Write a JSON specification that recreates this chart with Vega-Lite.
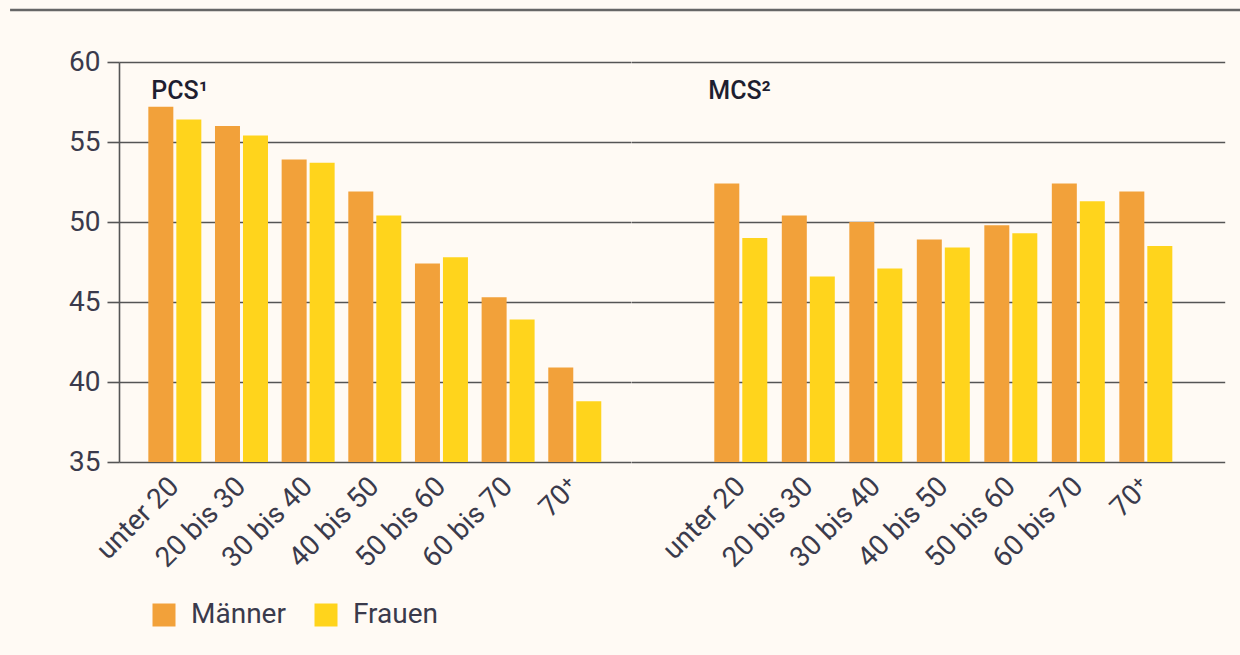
{
  "$schema": "https://vega.github.io/schema/vega-lite/v6.json",
  "background": "#FFFAF4",
  "padding": {"left": 8, "top": 0, "right": 0, "bottom": 9},
  "config": {
    "view": {"stroke": null},
    "font": "Roboto",
    "axis": {
      "labelFont": "Roboto",
      "labelColor": "#3a3a4c",
      "labelFontSize": 28,
      "gridColor": "#555555",
      "gridWidth": 1.6,
      "gridOpacity": 1,
      "domainColor": "#555555",
      "domainWidth": 1.6,
      "tickColor": "#555555",
      "tickWidth": 1.6,
      "title": null
    }
  },
  "datasets": {
    "werte": [
      {"skala": "PCS", "alter": "unter 20", "geschlecht": "Männer", "wert": 57.2},
      {"skala": "PCS", "alter": "unter 20", "geschlecht": "Frauen", "wert": 56.4},
      {"skala": "PCS", "alter": "20 bis 30", "geschlecht": "Männer", "wert": 56.0},
      {"skala": "PCS", "alter": "20 bis 30", "geschlecht": "Frauen", "wert": 55.4},
      {"skala": "PCS", "alter": "30 bis 40", "geschlecht": "Männer", "wert": 53.9},
      {"skala": "PCS", "alter": "30 bis 40", "geschlecht": "Frauen", "wert": 53.7},
      {"skala": "PCS", "alter": "40 bis 50", "geschlecht": "Männer", "wert": 51.9},
      {"skala": "PCS", "alter": "40 bis 50", "geschlecht": "Frauen", "wert": 50.4},
      {"skala": "PCS", "alter": "50 bis 60", "geschlecht": "Männer", "wert": 47.4},
      {"skala": "PCS", "alter": "50 bis 60", "geschlecht": "Frauen", "wert": 47.8},
      {"skala": "PCS", "alter": "60 bis 70", "geschlecht": "Männer", "wert": 45.3},
      {"skala": "PCS", "alter": "60 bis 70", "geschlecht": "Frauen", "wert": 43.9},
      {"skala": "PCS", "alter": "70⁺", "geschlecht": "Männer", "wert": 40.9},
      {"skala": "PCS", "alter": "70⁺", "geschlecht": "Frauen", "wert": 38.8},
      {"skala": "MCS", "alter": "unter 20", "geschlecht": "Männer", "wert": 52.4},
      {"skala": "MCS", "alter": "unter 20", "geschlecht": "Frauen", "wert": 49.0},
      {"skala": "MCS", "alter": "20 bis 30", "geschlecht": "Männer", "wert": 50.4},
      {"skala": "MCS", "alter": "20 bis 30", "geschlecht": "Frauen", "wert": 46.6},
      {"skala": "MCS", "alter": "30 bis 40", "geschlecht": "Männer", "wert": 50.0},
      {"skala": "MCS", "alter": "30 bis 40", "geschlecht": "Frauen", "wert": 47.1},
      {"skala": "MCS", "alter": "40 bis 50", "geschlecht": "Männer", "wert": 48.9},
      {"skala": "MCS", "alter": "40 bis 50", "geschlecht": "Frauen", "wert": 48.4},
      {"skala": "MCS", "alter": "50 bis 60", "geschlecht": "Männer", "wert": 49.8},
      {"skala": "MCS", "alter": "50 bis 60", "geschlecht": "Frauen", "wert": 49.3},
      {"skala": "MCS", "alter": "60 bis 70", "geschlecht": "Männer", "wert": 52.4},
      {"skala": "MCS", "alter": "60 bis 70", "geschlecht": "Frauen", "wert": 51.3},
      {"skala": "MCS", "alter": "70⁺", "geschlecht": "Männer", "wert": 51.9},
      {"skala": "MCS", "alter": "70⁺", "geschlecht": "Frauen", "wert": 48.5}
    ]
  },
  "spacing": 36,
  "vconcat": [
    {
      "width": 1123,
      "height": 10,
      "data": {"values": [{}]},
      "mark": {"type": "rule", "color": "#666666", "strokeWidth": 2.5, "clip": false},
      "encoding": {
        "x": {"datum": -0.097, "type": "quantitative", "scale": {"domain": [0, 1], "nice": false, "zero": false}, "axis": null},
        "x2": {"datum": 1},
        "y": {"datum": 0, "type": "quantitative", "scale": {"domain": [0, 1]}, "axis": null}
      }
    },
    {
      "spacing": 0,
      "hconcat": [
        {
          "width": 511.6,
          "height": 400,
          "layer": [
            {
              "data": {"name": "werte"},
              "transform": [{"filter": "datum.skala === 'PCS'"}],
              "mark": {"type": "bar"},
              "encoding": {
                "x": {
                  "field": "alter", "type": "nominal",
                  "scale": {"domain": ["unter 20", "20 bis 30", "30 bis 40", "40 bis 50", "50 bis 60", "60 bis 70", "70⁺"], "paddingInner": 0.205, "paddingOuter": 0.44},
                  "axis": {"domain": false, "ticks": false, "labelAngle": -45, "labelAlign": "right", "labelBaseline": "middle", "labelPadding": 20}
                },
                "xOffset": {"field": "geschlecht", "type": "nominal", "sort": ["Männer", "Frauen"], "scale": {"paddingInner": 0.107, "paddingOuter": 0}},
                "y": {
                  "field": "wert", "type": "quantitative",
                  "scale": {"domain": [35, 60], "zero": false, "nice": false},
                  "axis": {"values": [35, 40, 45, 50, 55, 60], "tickSize": 12, "labelPadding": 7, "minExtent": 109, "maxExtent": 109}
                },
                "y2": {"datum": 35},
                "color": {
                  "field": "geschlecht", "type": "nominal",
                  "scale": {"domain": ["Männer", "Frauen"], "range": ["#F2A13A", "#FFD41C"]},
                  "legend": {"orient": "bottom", "direction": "horizontal", "title": null, "symbolType": "square", "symbolSize": 529, "symbolStrokeWidth": 0, "labelFontSize": 28, "labelFont": "Roboto", "labelColor": "#3a3a4c", "labelOffset": 13, "columnPadding": 26, "offset": -3, "padding": 31}
                }
              }
            },
            {
              "data": {"values": [{"alter": "unter 20", "titel": "PCS¹"}]},
              "mark": {"type": "text", "align": "left", "baseline": "alphabetic", "fontSize": 25, "fontWeight": 500, "color": "#1e1e30", "dx": 3},
              "encoding": {
                "x": {"field": "alter", "type": "nominal", "bandPosition": 0},
                "y": {"datum": 57.7, "type": "quantitative"},
                "text": {"field": "titel"}
              }
            }
          ]
        },
        {
          "width": 593.7,
          "height": 400,
          "layer": [
            {
              "data": {"name": "werte"},
              "transform": [{"filter": "datum.skala === 'MCS'"}],
              "mark": {"type": "bar"},
              "encoding": {
                "x": {
                  "field": "alter", "type": "nominal",
                  "scale": {"domain": ["unter 20", "20 bis 30", "30 bis 40", "40 bis 50", "50 bis 60", "60 bis 70", "70⁺"], "paddingInner": 0.205, "paddingOuter": 1.053, "align": 0.617},
                  "axis": {"domain": false, "ticks": false, "labelAngle": -45, "labelAlign": "right", "labelBaseline": "middle", "labelPadding": 20}
                },
                "xOffset": {"field": "geschlecht", "type": "nominal", "sort": ["Männer", "Frauen"], "scale": {"paddingInner": 0.107, "paddingOuter": 0}},
                "y": {
                  "field": "wert", "type": "quantitative",
                  "scale": {"domain": [35, 60], "zero": false, "nice": false},
                  "axis": {"values": [35, 40, 45, 50, 55, 60], "labels": false, "ticks": false, "domain": false, "minExtent": 0, "maxExtent": 0}
                },
                "y2": {"datum": 35},
                "color": {"field": "geschlecht", "type": "nominal", "scale": {"domain": ["Männer", "Frauen"], "range": ["#F2A13A", "#FFD41C"]}}
              }
            },
            {
              "data": {"values": [{"alter": "unter 20", "titel": "MCS²"}]},
              "mark": {"type": "text", "align": "left", "baseline": "alphabetic", "fontSize": 25, "fontWeight": 500, "color": "#1e1e30", "dx": -6},
              "encoding": {
                "x": {"field": "alter", "type": "nominal", "bandPosition": 0},
                "y": {"datum": 57.7, "type": "quantitative"},
                "text": {"field": "titel"}
              }
            }
          ]
        }
      ]
    }
  ]
}
